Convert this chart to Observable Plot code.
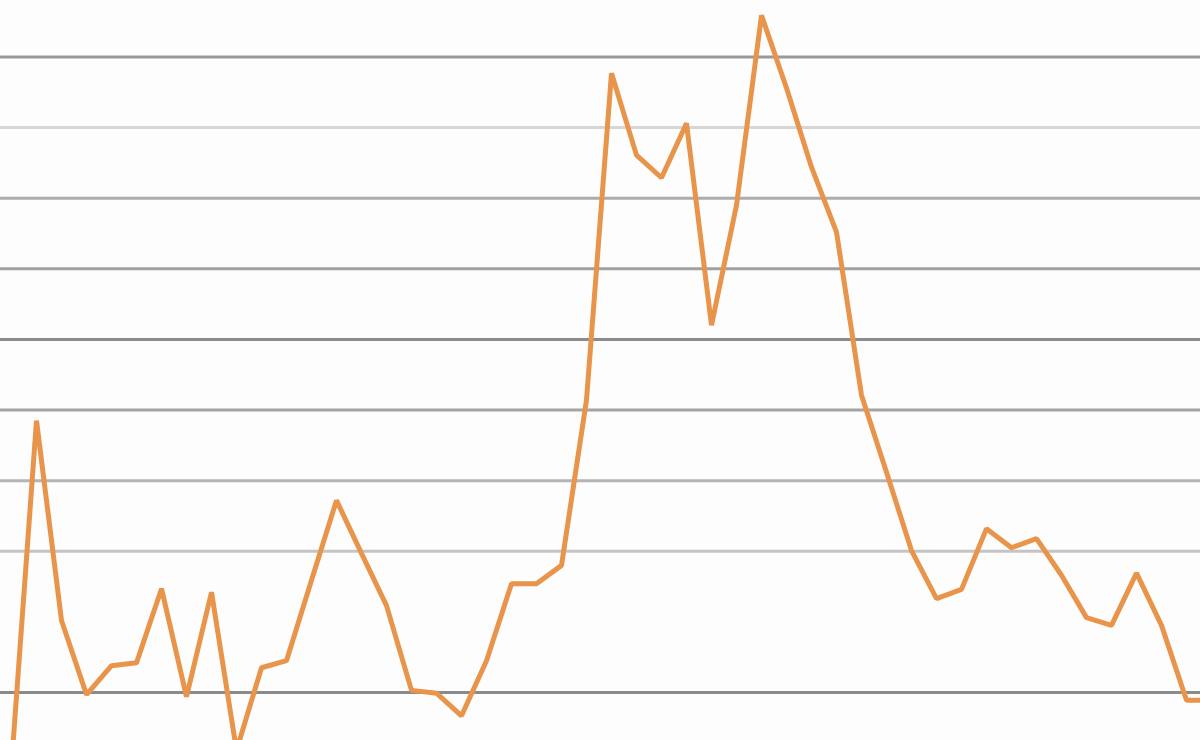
<!DOCTYPE html>
<html>
<head>
<meta charset="utf-8">
<script src="https://cdn.jsdelivr.net/npm/d3@7"></script>
<script src="https://cdn.jsdelivr.net/npm/@observablehq/plot@0.6"></script>
<style>
  html, body { margin: 0; padding: 0; background: #fdfdfd; overflow: hidden; }
  #chart svg { display: block; }
</style>
</head>
<body>
<div id="chart"></div>
<script>
// Period index (x) and value (y)
const periods = d3.range(0, 49);
const values = [
  -10.3, 38.5, 10.2, -0.3, 3.8, 4.2, 14.7, -0.6, 14.2, -8.2,
  3.5, 4.5, 15.9, 27.2, 19.7, 12.3, 0.3, -0.1, -3.3, 4.5,
  15.4, 15.4, 18.0, 41.4, 87.7, 76.1, 72.9, 80.6, 52.0, 69.0,
  95.9, 85.6, 74.4, 65.2, 42.1, 31.2, 20.1, 13.3, 14.6, 23.2,
  20.5, 21.8, 16.6, 10.6, 9.5, 16.9, 9.5, -1.1, -1.1
];
// Gridline levels
const gridValues = [0, 20, 30, 40, 50, 60, 70, 80, 90];

const data = periods.map((p, i) => ({ x: p, y: values[i] }));
const gridShade = { 0: "#8a8a8a", 20: "#c4c4c4", 30: "#b4b4b4", 40: "#a4a4a4", 50: "#8c8c8c", 60: "#a0a0a0", 70: "#acacac", 80: "#d6d6d6", 90: "#999999" };

const chart = Plot.plot({
  width: 1200,
  height: 740,
  margin: 0,
  style: { background: "#fdfdfd", overflow: "hidden" },
  x: { domain: [-0.44, 47.56], axis: null },
  y: { domain: [-6.8, 98], axis: null },
  marks: [
    Plot.ruleY(gridValues, { stroke: d => gridShade[d], strokeWidth: 3 }),
    Plot.line(data, {
      x: "x", y: "y",
      stroke: "#e8944a",
      strokeWidth: 5,
      strokeLinejoin: "miter",
      clip: true
    })
  ]
});
document.getElementById("chart").appendChild(chart);
</script>
</body>
</html>
